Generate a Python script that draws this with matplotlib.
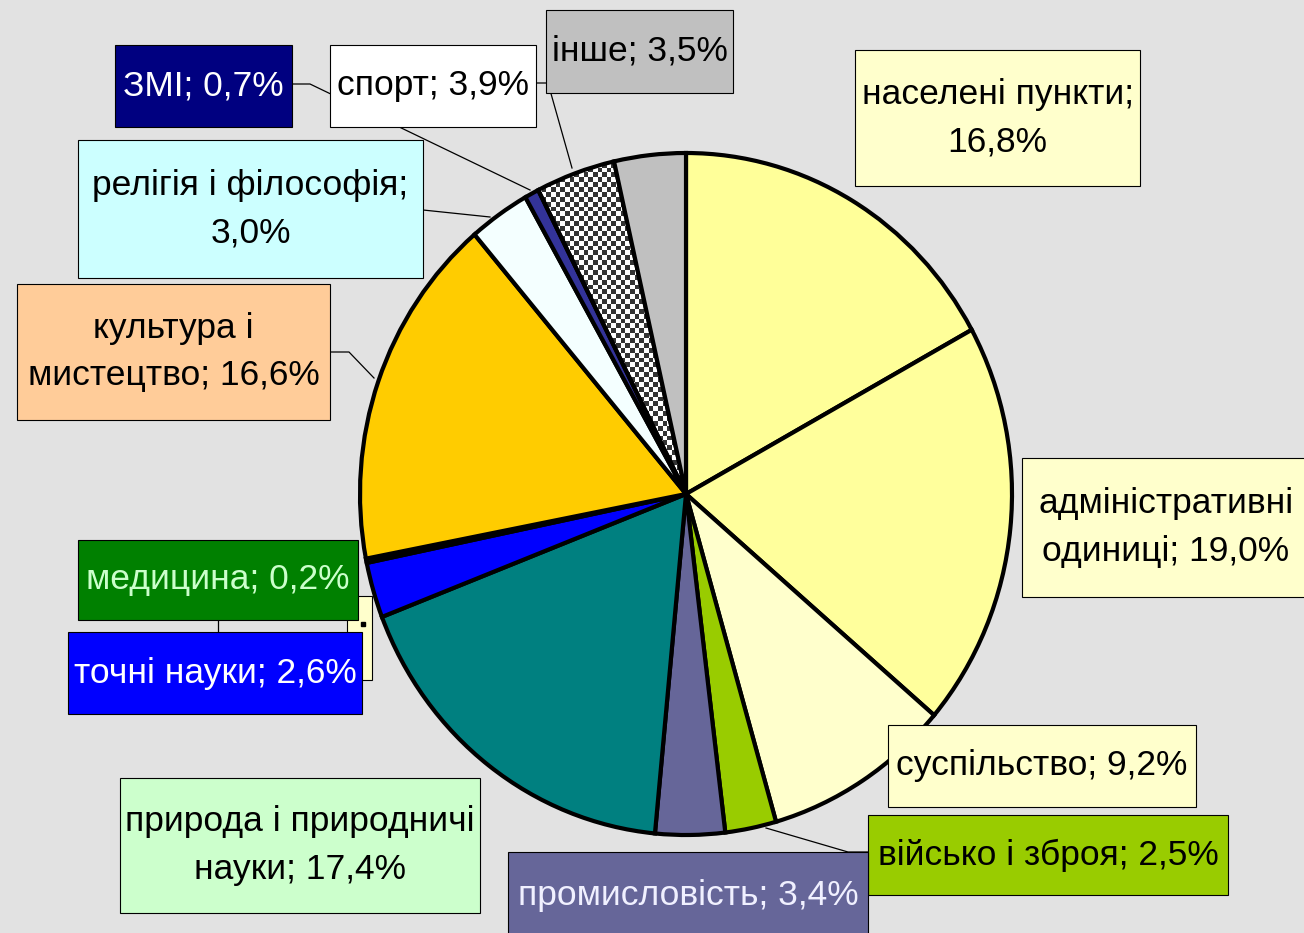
import numpy as np
import matplotlib
matplotlib.use("Agg")
import matplotlib.pyplot as plt
from matplotlib.patches import Rectangle

# shares of topics, clockwise from 12 o'clock
categories = ["населені пункти", "адміністративні одиниці", "суспільство",
              "військо і зброя", "промисловість", "природа і природничі науки",
              "точні науки", "медицина", "культура і мистецтво",
              "релігія і філософія", "ЗМІ", "спорт", "інше"]
values = [16.8, 19.0, 9.2, 2.5, 3.4, 17.4, 2.6, 0.2, 16.6, 3.0, 0.7, 3.9, 3.5]
labels = ["населені пункти;\n16,8%", "адміністративні\nодиниці; 19,0%",
          "суспільство; 9,2%", "військо і зброя; 2,5%", "промисловість; 3,4%",
          "природа і природничі\nнауки; 17,4%", "точні науки; 2,6%",
          "медицина; 0,2%", "культура і\nмистецтво; 16,6%",
          "релігія і філософія;\n3,0%", "ЗМІ; 0,7%", "спорт; 3,9%", "інше; 3,5%"]

slice_colors = ["#FFFF99", "#FFFF9C", "#FFFFCC", "#99CC00", "#666699", "#008080",
                "#0000FF", "#008000", "#FFCC00", "#F4FFFF", "#333399", "none", "#C0C0C0"]
box_colors = ["#FFFFCC", "#FFFFCC", "#FFFFCC", "#99CC00", "#666699", "#CCFFCC",
              "#0000FF", "#008000", "#FFCC99", "#CCFFFF", "#000080", "#FFFFFF", "#C0C0C0"]
text_colors = ["black", "black", "black", "black", "#F0F0FF", "black",
               "white", "#CCFFCC", "black", "black", "white", "black", "black"]
# label boxes in pixels: x0, y0, x1, y1
boxes = [(855, 50, 1140, 186), (1022, 458, 1310, 597), (888, 725, 1196, 807),
         (868, 815, 1228, 895), (508, 852, 868, 940), (120, 778, 480, 913),
         (68, 632, 362, 714), (78, 540, 358, 620), (17, 284, 330, 420),
         (78, 140, 423, 278), (115, 45, 292, 127), (330, 45, 536, 127),
         (546, 10, 733, 93)]
leaders = [
    [(868, 852), (848, 852), (766, 828)],
    [(330, 352), (349, 352), (374, 378)],
    [(423, 210), (490, 217)],
    [(292, 84), (310, 84), (530, 190)],
    [(536, 83), (548, 83), (572, 168)],
    [(218, 620), (218, 632)],
]

W, H = 1304, 933
fig = plt.figure(figsize=(W / 100, H / 100), dpi=100)
fig.patch.set_facecolor("#E2E2E2")

# pie (slightly taller than wide, as in the original)
cx0, cy0, cx1, cy1 = 360, 153, 1012, 835
pax = fig.add_axes([cx0 / W, 1 - cy1 / H, (cx1 - cx0) / W, (cy1 - cy0) / H])
wedges, _ = pax.pie(values, colors=slice_colors, startangle=90, counterclock=False,
                    wedgeprops=dict(edgecolor="black", linewidth=3))
pax.set_aspect("auto")
pax.set_xlim(-1, 1)
pax.set_ylim(-1, 1)
pax.axis("off")

# checkered fill for "спорт"
n = 140
ii, jj = np.indices((n, n))
checker = (ii + jj) % 2
im = pax.imshow(checker, cmap="gray", vmin=-0.25, vmax=1, extent=(-1, 1, -1, 1),
                interpolation="nearest", zorder=0.5, aspect="auto")
im.set_clip_path(wedges[11])

# labels
ax = fig.add_axes([0, 0, 1, 1])
ax.set_xlim(0, W)
ax.set_ylim(H, 0)
ax.axis("off")

for pts in leaders:
    xs, ys = zip(*pts)
    ax.plot(xs, ys, color="black", linewidth=0.9, zorder=1)

# hidden label box behind "точні науки"
ax.add_patch(Rectangle((347, 596), 25, 84, facecolor="#FFFFCC", edgecolor="black",
                       linewidth=0.8, zorder=2))
ax.plot([363], [624], marker="s", color="black", markersize=3, zorder=2)

for lab, (x0, y0, x1, y1), fc, tc in zip(labels, boxes, box_colors, text_colors):
    ax.add_patch(Rectangle((x0, y0), x1 - x0, y1 - y0, facecolor=fc,
                           edgecolor="black", linewidth=0.8, zorder=3))
    ax.text((x0 + x1) / 2, (y0 + y1) / 2, lab, ha="center", va="center",
            fontsize=25.5, color=tc, family="Liberation Sans", linespacing=1.55,
            zorder=4)

fig.savefig("out.png", dpi=100, facecolor=fig.get_facecolor())
